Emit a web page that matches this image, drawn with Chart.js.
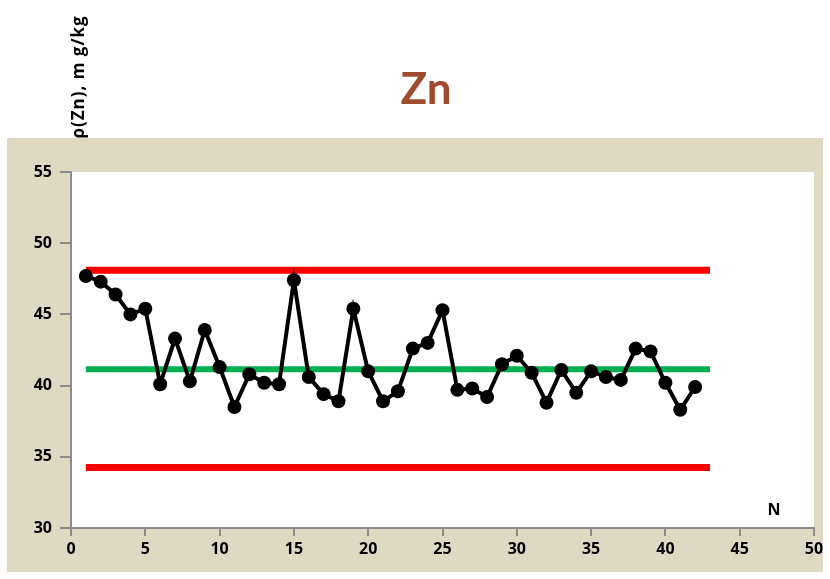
<!DOCTYPE html>
<html>
<head>
<meta charset="utf-8">
<title>Zn</title>
<script src="https://cdn.jsdelivr.net/npm/chart.js@4/dist/chart.umd.min.js"></script>
<style>
  html, body { margin: 0; padding: 0; background: #ffffff; }
  #wrap { width: 830px; height: 579px; position: relative; }
</style>
</head>
<body>
<div id="wrap"><canvas id="chart" width="830" height="579"></canvas></div>
<script>
// Sample numbers and measured zinc content
const sampleN = [1,2,3,4,5,6,7,8,9,10,11,12,13,14,15,16,17,18,19,20,21,
                 22,23,24,25,26,27,28,29,30,31,32,33,34,35,36,37,38,39,40,41,42];
const znValues = [47.7,47.3,46.4,45.0,45.4,40.1,43.3,40.3,43.9,41.3,38.5,
                  40.8,40.2,40.1,47.4,40.6,39.4,38.9,45.4,41.0,38.9,
                  39.6,42.6,43.0,45.3,39.7,39.8,39.2,41.5,42.1,40.9,
                  38.8,41.1,39.5,41.0,40.6,40.4,42.6,42.4,40.2,38.3,39.9];

// Control limits and centre line, spanning N = 1 … 43
const limitSpan = [1, 43];
const upperLimit = 48.1;
const centreLine = 41.15;
const lowerLimit = 34.25;

const xTicks = [0, 50, 5];   // min, max, step
const yTicks = [30, 55, 5];

const chartTitle = 'Zn';
const yAxisTitle = 'ρ(Zn), m g/kg';
const xAxisTitle = 'N';

const FONT = '"Open Sans", Lato, "DejaVu Sans", sans-serif';
const TITLE_FONT = 'Lato, "Open Sans", sans-serif';

const pts = sampleN.map((n, i) => ({ x: n, y: znValues[i] }));
const hLine = v => limitSpan.map(x => ({ x, y: v }));

// Panel background, plot area and free-standing labels
const decor = {
  id: 'decor',
  beforeDraw(chart) {
    const { ctx, chartArea: a } = chart;
    ctx.save();
    ctx.fillStyle = '#ddd9c3';
    ctx.fillRect(7, 138, 816, 434);
    ctx.fillStyle = '#ffffff';
    ctx.fillRect(a.left, a.top, a.right - a.left, a.bottom - a.top);
    ctx.restore();
  },
  afterDraw(chart) {
    const { ctx } = chart;
    ctx.save();
    ctx.fillStyle = '#a04b2d';
    ctx.font = 'bold 44px ' + TITLE_FONT;
    ctx.textAlign = 'center';
    ctx.textBaseline = 'middle';
    ctx.fillText(chartTitle, 426, 90);

    ctx.fillStyle = '#000000';
    ctx.font = 'bold 16px ' + FONT;
    ctx.fillText(xAxisTitle, 774, 510);

    ctx.translate(79, 77);
    ctx.rotate(-Math.PI / 2);
    ctx.font = 'bold 17px ' + FONT;
    if ('letterSpacing' in ctx) ctx.letterSpacing = '1px';
    ctx.fillText(yAxisTitle, 0, 0);
    ctx.restore();
  }
};

new Chart(document.getElementById('chart'), {
  type: 'line',
  data: {
    datasets: [
      {
        label: 'Zn',
        data: pts,
        order: 0,
        borderColor: '#000000',
        backgroundColor: '#000000',
        borderWidth: 4,
        pointRadius: 7,
        pointHoverRadius: 7,
        pointBackgroundColor: '#000000',
        pointBorderWidth: 0,
        tension: 0
      },
      {
        label: 'UCL', data: hLine(upperLimit), order: 1,
        borderColor: '#ff0000', borderWidth: 7, pointRadius: 0, borderCapStyle: 'butt'
      },
      {
        label: 'CL', data: hLine(centreLine), order: 1,
        borderColor: '#00b050', borderWidth: 6, pointRadius: 0, borderCapStyle: 'butt'
      },
      {
        label: 'LCL', data: hLine(lowerLimit), order: 1,
        borderColor: '#ff0000', borderWidth: 7, pointRadius: 0, borderCapStyle: 'butt'
      }
    ]
  },
  options: {
    responsive: false,
    animation: false,
    layout: { padding: { top: 172, right: 16, bottom: 0, left: 0 } },
    plugins: {
      legend: { display: false },
      title: { display: false },
      tooltip: { enabled: false }
    },
    scales: {
      x: {
        type: 'linear',
        min: xTicks[0], max: xTicks[1],
        afterFit(s) { s.height = 51; },
        ticks: {
          stepSize: xTicks[2],
          color: '#000000',
          font: { family: FONT, size: 16, weight: 'bold' },
          padding: 4,
          maxRotation: 0
        },
        grid: { drawOnChartArea: false, drawTicks: true, tickLength: 8, color: '#8c8c8c', lineWidth: 2 },
        border: { display: true, color: '#8c8c8c', width: 2 }
      },
      y: {
        type: 'linear',
        min: yTicks[0], max: yTicks[1],
        afterFit(s) { s.width = 71; },
        ticks: {
          stepSize: yTicks[2],
          color: '#000000',
          font: { family: FONT, size: 16, weight: 'bold' },
          padding: 8
        },
        grid: { drawOnChartArea: false, drawTicks: true, tickLength: 11, color: '#8c8c8c', lineWidth: 2 },
        border: { display: true, color: '#8c8c8c', width: 2 }
      }
    }
  },
  plugins: [decor]
});
</script>
</body>
</html>
